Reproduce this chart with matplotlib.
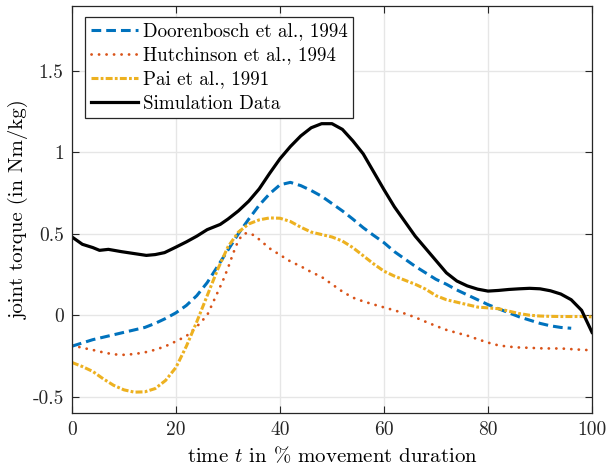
import numpy as np
import matplotlib
matplotlib.use('Agg')
import matplotlib.pyplot as plt

# LaTeX-like look
plt.rcParams['font.family'] = ['cmr10', 'DejaVu Serif']
plt.rcParams['mathtext.fontset'] = 'cm'
plt.rcParams['axes.unicode_minus'] = False
plt.rcParams['lines.scale_dashes'] = False

# Doorenbosch et al., 1994
t_door = [0, 2, 4, 6, 8, 10, 12, 14, 16, 18, 20, 22, 24, 26, 28, 30, 32, 34, 36, 38,
          40, 42, 44, 46, 48, 50, 52, 54, 56, 58, 60, 62, 64, 66, 68, 70, 72, 74, 76,
          78, 80, 82, 84, 86, 88, 90, 92, 94, 96]
v_door = [-0.19, -0.17, -0.15, -0.135, -0.12, -0.105, -0.09, -0.075, -0.05, -0.02,
          0.015, 0.06, 0.12, 0.2, 0.3, 0.4, 0.5, 0.59, 0.675, 0.745,
          0.80, 0.815, 0.795, 0.765, 0.73, 0.685, 0.64, 0.59, 0.537, 0.49,
          0.445, 0.39, 0.345, 0.30, 0.26, 0.22, 0.19, 0.155, 0.125,
          0.095, 0.065, 0.04, 0.015, -0.01, -0.03, -0.05, -0.065, -0.075, -0.08]

# Hutchinson et al., 1994
t_hutch = [0, 2, 4, 6, 8, 10, 12, 14, 16, 18, 20, 22, 24, 26, 27, 28, 29, 30, 31, 32,
           33, 34, 35, 36, 38, 40, 42, 44, 46, 48, 50, 52, 54, 56, 58, 60, 62, 64, 66,
           68, 70, 72, 74, 76, 78, 80, 82, 84, 86, 88, 90, 92, 94, 96, 98, 100]
v_hutch = [-0.185, -0.2, -0.213, -0.228, -0.24, -0.243, -0.238, -0.228, -0.212, -0.19,
           -0.16, -0.128, -0.07, 0.0, 0.07, 0.14, 0.21, 0.29, 0.38, 0.46,
           0.5, 0.505, 0.49, 0.465, 0.41, 0.37, 0.33, 0.3, 0.265, 0.235,
           0.19, 0.145, 0.108, 0.085, 0.066, 0.048, 0.03, 0.01, -0.013,
           -0.04, -0.066, -0.09, -0.108, -0.125, -0.147, -0.168, -0.185, -0.193,
           -0.198, -0.2, -0.203, -0.204, -0.204, -0.208, -0.212, -0.215]

# Pai et al., 1991
t_pai = [0, 2, 4, 6, 8, 10, 12, 14, 16, 18, 20, 22, 24, 26, 28, 30, 32, 34, 36, 38,
         40, 42, 44, 46, 48, 50, 52, 54, 56, 58, 60, 62, 64, 66, 68, 70, 72, 74, 76,
         78, 80, 82, 84, 86, 88, 90, 92, 94, 96, 98, 100]
v_pai = [-0.29, -0.315, -0.345, -0.39, -0.43, -0.458, -0.472, -0.47, -0.45, -0.4,
         -0.32, -0.19, -0.04, 0.12, 0.28, 0.42, 0.51, 0.56, 0.585, 0.597,
         0.595, 0.575, 0.54, 0.51, 0.495, 0.48, 0.455, 0.415, 0.365, 0.315,
         0.27, 0.24, 0.215, 0.19, 0.16, 0.12, 0.095, 0.08, 0.065,
         0.05, 0.045, 0.04, 0.025, 0.01, 0.0, -0.005, -0.007, -0.008, -0.008, -0.008, -0.01]

# simulation result
t_sim = [0, 2, 4, 5.3, 7, 9.5, 12, 14.3, 16, 17.8, 20, 22, 24, 26, 28.5, 30, 32, 34, 36,
         38, 40, 42, 44, 46, 48, 50, 52, 54, 56, 58, 60, 62, 64, 66, 68, 70, 72, 74,
         76, 78, 80, 82, 84, 86, 88, 90, 92, 94, 96, 98, 100]
v_sim = [0.48, 0.435, 0.415, 0.398, 0.404, 0.39, 0.378, 0.367, 0.372, 0.384,
         0.418, 0.45, 0.485, 0.525, 0.557, 0.59, 0.64, 0.70, 0.775,
         0.87, 0.96, 1.035, 1.10, 1.15, 1.175, 1.175, 1.14, 1.07, 0.99, 0.88,
         0.77, 0.665, 0.575, 0.485, 0.41, 0.335, 0.26, 0.21,
         0.18, 0.16, 0.148, 0.152, 0.158, 0.162, 0.165, 0.162, 0.15, 0.13, 0.095, 0.03, -0.105]

x_ticks = [0, 20, 40, 60, 80, 100]
y_ticks = [-0.5, 0, 0.5, 1, 1.5]
y_tick_labels = ['-0.5', '0', '0.5', '1', '1.5']

fig = plt.figure(figsize=(6.08, 4.71), dpi=100)
ax = fig.add_axes([0.1184, 0.1231, 0.8553, 0.8652])

ax.plot(t_door, v_door, color='#0072BD', lw=2.2, dashes=(7, 3.6),
        label='Doorenbosch et al., 1994')
ax.plot(t_hutch, v_hutch, color='#D95319', lw=2.0, dashes=(0.1, 5.3),
        dash_capstyle='round', label='Hutchinson et al., 1994')
ax.plot(t_pai, v_pai, color='#EDB120', lw=2.2, dashes=(5, 1.6, 2, 1.6),
        label='Pai et al., 1991')
ax.plot(t_sim, v_sim, color='black', lw=2.3, label='Simulation Data')

ax.set_xlim(0, 100)
ax.set_ylim(-0.6, 1.9)
ax.set_xticks(x_ticks)
ax.set_xticklabels([str(v) for v in x_ticks])
ax.set_yticks(y_ticks)
ax.set_yticklabels(y_tick_labels)

ax.grid(True, color='#e6e6e6', lw=1.0)
ax.set_axisbelow(True)
ax.tick_params(direction='in', top=True, right=True, length=5, width=0.8,
               labelsize=14, colors='#262626', pad=6)
for sp in ax.spines.values():
    sp.set_color('#262626')
    sp.set_linewidth(0.9)

ax.set_xlabel('time $t$ in % movement duration', fontsize=15, labelpad=4.5)
ax.set_ylabel('joint torque (in Nm/kg)', fontsize=15, labelpad=2.5)

leg = ax.legend(loc='upper left', bbox_to_anchor=(0.025, 0.972), borderaxespad=0,
                fontsize=13.7, fancybox=False, framealpha=1, edgecolor='#262626',
                handlelength=2.5, handletextpad=0.25, labelspacing=0.32,
                borderpad=0.3)
leg.get_frame().set_linewidth(0.9)

fig.savefig('out.png', dpi=100)
